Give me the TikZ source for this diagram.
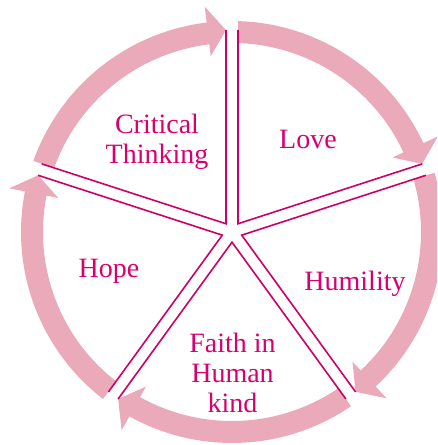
\documentclass[tikz,border=0pt]{standalone}
\usepackage{fontspec}
\setmainfont{Liberation Serif}
\usetikzlibrary{calc}

\definecolor{ringpink}{RGB}{235,170,186}
\definecolor{spokemag}{RGB}{204,0,102}
\definecolor{labelmag}{RGB}{216,0,112}

\begin{document}
\begin{tikzpicture}[
    x=1pt, y=1pt,
    ring/.style={fill=ringpink},
    spoke/.style={draw=spokemag, line width=1.6pt, line join=miter},
    label/.style={text=labelmag, align=center, inner sep=0pt,
        font=\fontsize{28}{30}\selectfont}
]

% Frame
\clip (-232,-213) rectangle (205,232);

% -------------------------
% Arrows round the circle (clockwise)
% -------------------------
\foreach \a in {90,18,-54,-126,162} {
    \pgfmathsetmacro\s{\a-1.7}
    \pgfmathsetmacro\e{\a-72+1.7}
    \pgfmathsetmacro\b{\e+5.2}
    \fill[ring] (\s:211) arc[start angle=\s, end angle=\b, radius=211]
        -- (\b:227) -- (\e:202) -- (\b:177) -- (\b:189)
        arc[start angle=\b, end angle=\s, radius=189] -- cycle;
}

% -------------------------
% Five wedges, double lines between them
% -------------------------
\coordinate (o) at (0,0);
\foreach \a in {90,18,-54,-126,162} {
    \pgfmathsetmacro\m{\a-36}
    \pgfmathsetmacro\n{\a-72}
    \draw[spoke] ($(o)+(\a:202)+(\a-90:6)$) -- ($(o)+(\m:10.2)$)
        -- ($(o)+(\n:202)+(\n+90:6)$);
}

% -------------------------
% Labels
% -------------------------
\node[label] (crit) at (-75,90) {Critical\\Thinking};
\node[label, anchor=base] (love) at (76,84) {Love};
\node[label, anchor=base] (humil) at (123,-58) {Humility};
\node[label, anchor=base] (hope) at (-123,-45) {Hope};
\node[label] (faith) at (0.5,-141) {Faith in\\Human\\kind};

\end{tikzpicture}
\end{document}
